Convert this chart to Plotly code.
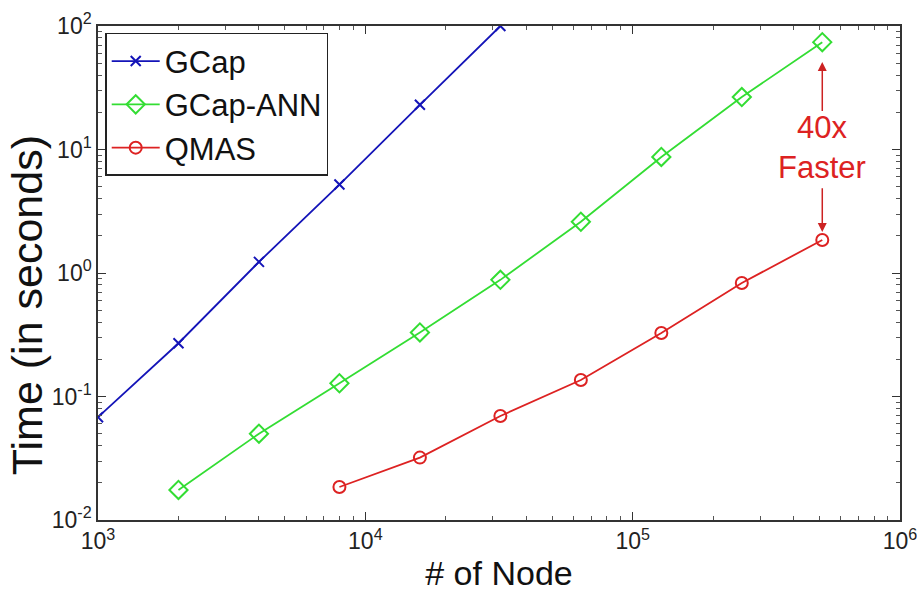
import math
import plotly.graph_objects as go

# Data
gcap_nodes = [1000, 2000, 4000, 8000, 16000, 32000]
gcap_time = [0.068, 0.27, 1.23, 5.2, 23, 100]

ann_nodes = [2000, 4000, 8000, 16000, 32000, 64000, 128000, 256000, 512000]
ann_time = [0.0175, 0.050, 0.128, 0.33, 0.88, 2.6, 8.7, 26.6, 74]

qmas_nodes = [8000, 16000, 32000, 64000, 128000, 256000, 512000]
qmas_time = [0.0185, 0.032, 0.0695, 0.136, 0.327, 0.83, 1.85]

x_tickvals = [1e3, 1e4, 1e5, 1e6]
x_ticktext = ["10<sup>3</sup>", "10<sup>4</sup>", "10<sup>5</sup>", "10<sup>6</sup>"]
y_tickvals = [1e-2, 1e-1, 1e0, 1e1, 1e2]
y_ticktext = ["10<sup>-2</sup>", "10<sup>-1</sup>", "10<sup>0</sup>", "10<sup>1</sup>", "10<sup>2</sup>"]

BLUE = "#1414b8"
GREEN = "#33dd33"
RED = "#dd2222"
FONT = "Liberation Sans, Arial, sans-serif"

fig = go.Figure()
fig.add_trace(go.Scatter(x=gcap_nodes, y=gcap_time, name="GCap", mode="lines+markers",
                         line=dict(color=BLUE, width=1.8),
                         marker=dict(symbol="x-thin-open", size=10, line=dict(color=BLUE, width=2))))
fig.add_trace(go.Scatter(x=ann_nodes, y=ann_time, name="GCap-ANN", mode="lines+markers",
                         line=dict(color=GREEN, width=1.8),
                         marker=dict(symbol="diamond-open", size=14, color=GREEN, line=dict(width=2))))
fig.add_trace(go.Scatter(x=qmas_nodes, y=qmas_time, name="QMAS", mode="lines+markers",
                         line=dict(color=RED, width=1.8),
                         marker=dict(symbol="circle-open", size=12, color=RED, line=dict(width=2))))

lx = math.log10(ann_nodes[-1])
top = ann_time[-1]
bot = qmas_time[-1]
fig.add_annotation(x=lx, y=math.log10(top * 0.69), ax=lx, ay=math.log10(top * 0.27),
                   xref="x", yref="y", axref="x", ayref="y", text="", showarrow=True,
                   arrowhead=2, arrowsize=1.2, arrowwidth=1.5, arrowcolor="#cc2222")
fig.add_annotation(x=lx, y=math.log10(bot * 1.16), ax=lx, ay=math.log10(bot * 2.7),
                   xref="x", yref="y", axref="x", ayref="y", text="", showarrow=True,
                   arrowhead=2, arrowsize=1.2, arrowwidth=1.5, arrowcolor="#cc2222")
fig.add_annotation(x=lx, y=math.log10(math.sqrt(top * bot)) - 0.05, xref="x", yref="y",
                   text="40x<br>Faster", showarrow=False,
                   font=dict(family=FONT, size=31, color="#dd2222"))

# y-axis title placed slightly below centre, as in the reference
fig.add_annotation(x=-0.0885, y=0.435, xref="paper", yref="paper",
                   xanchor="center", yanchor="middle", textangle=-90,
                   text="Time (in seconds)", showarrow=False,
                   font=dict(family=FONT, size=43, color="#111111"))

minor_vals = [m * 10 ** e for e in range(-3, 7) for m in range(2, 10)]

axis_common = dict(type="log", showgrid=False, zeroline=False, showline=True,
                   linecolor="#333333", linewidth=1.5, mirror="ticks", ticks="inside",
                   ticklen=8, tickcolor="#333333", automargin=False,
                   ticklabeloverflow="allow",
                   tickfont=dict(family=FONT, size=23, color="#222222"),
                   minor=dict(tickvals=minor_vals, ticks="inside", ticklen=4,
                              tickcolor="#555555", showgrid=False))

fig.update_xaxes(range=[3, 6.00001], tickvals=x_tickvals, ticktext=x_ticktext,
                 title=dict(text="# of Node", font=dict(family=FONT, size=34, color="#111111"), standoff=8),
                 **axis_common)
fig.update_yaxes(range=[-2, 2.00001], tickvals=y_tickvals, ticktext=y_ticktext,
                 **axis_common)

fig.update_layout(
    width=917, height=592,
    margin=dict(l=98, r=17, t=26, b=72),
    paper_bgcolor="white", plot_bgcolor="white",
    showlegend=True,
    legend=dict(x=0.009, y=0.986, xanchor="left", yanchor="top",
                bordercolor="#222222", borderwidth=1.5, bgcolor="white",
                font=dict(family=FONT, size=31, color="#111111"),
                itemwidth=48, tracegroupgap=0),
)

fig.write_html("out.html", config={"displayModeBar": False},
               post_script="document.body.style.margin='0';document.body.style.padding='0';")
